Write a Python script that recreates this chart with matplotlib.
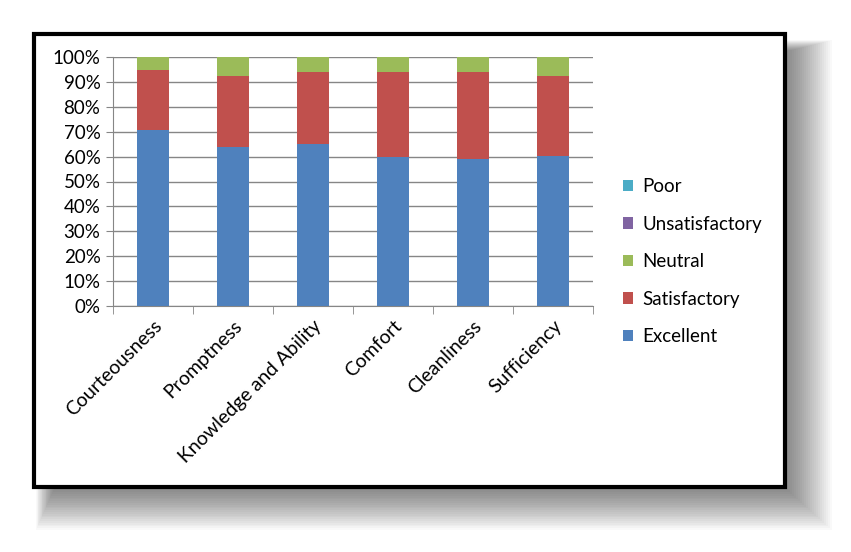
import matplotlib.pyplot as plt
from matplotlib.patches import Rectangle, Patch
import numpy as np

categories = ["Courteousness", "Promptness", "Knowledge and Ability",
              "Comfort", "Cleanliness", "Sufficiency"]
excellent = [70.7, 63.8, 65.1, 60.0, 58.9, 60.3]
satisfactory = [24.2, 28.7, 29.0, 34.1, 35.2, 32.2]
neutral = [5.1, 7.5, 5.9, 5.9, 5.9, 7.5]
unsatisfactory = [0, 0, 0, 0, 0, 0]
poor = [0, 0, 0, 0, 0, 0]

series = [("Excellent", excellent, "#4F81BD"),
          ("Satisfactory", satisfactory, "#C0504D"),
          ("Neutral", neutral, "#9BBB59"),
          ("Unsatisfactory", unsatisfactory, "#8064A2"),
          ("Poor", poor, "#4BACC6")]

plt.rcParams['font.family'] = ['Lato', 'DejaVu Sans']

W, H = 851, 552
fig = plt.figure(figsize=(W / 100, H / 100), dpi=100)
fig.patch.set_facecolor("white")

def px(x0, y0, x1, y1):
    # pixel box -> figure fraction rectangle args
    return (x0 / W, 1 - y1 / H), (x1 - x0) / W, (y1 - y0) / H

# soft shadow behind the frame
n = 24
for i in range(n):
    xy, w, h = px(36 + i * 0.8, 40 + i * 0.5, 832 - i * 2.0, 530 - i * 1.8)
    fig.patches.append(Rectangle(xy, w, h, transform=fig.transFigure,
                                 facecolor="black", alpha=0.025,
                                 edgecolor="none", zorder=0))
# frame
xy, w, h = px(34, 34, 785, 487)
fig.patches.append(Rectangle(xy, w, h, transform=fig.transFigure,
                             facecolor="white", edgecolor="black",
                             linewidth=3, zorder=1))

ax = fig.add_axes([113 / W, 1 - 306 / H, 480 / W, 249 / H])
ax.set_zorder(2)
ax.patch.set_alpha(0)

x = np.arange(len(categories))
bottom = np.zeros(len(categories))
handles = {}
for name, vals, col in series:
    v = np.array(vals, dtype=float)
    ax.bar(x, v, 0.4, bottom=bottom, color=col, zorder=3)
    bottom += v
    handles[name] = Patch(facecolor=col)

ax.set_xlim(-0.5, len(categories) - 0.5)
ax.set_ylim(0, 100)
ax.set_yticks(np.arange(0, 101, 10))
ax.set_yticklabels([f"{t}%" for t in range(0, 101, 10)], fontsize=13.5)
ax.yaxis.grid(True, color="#868686", linewidth=1, zorder=0)
ax.set_axisbelow(True)

ax.set_xticks(x)
ax.set_xticklabels(categories, rotation=45, ha="right",
                   rotation_mode="anchor", fontsize=14)
ax.tick_params(axis="x", which="major", length=0, pad=8)
ax.set_xticks(np.arange(-0.5, len(categories), 1), minor=True)
ax.tick_params(axis="x", which="minor", length=6, color="#868686", direction="out")
ax.tick_params(axis="y", length=5, color="#868686", pad=4)

for s in ["top", "right"]:
    ax.spines[s].set_visible(False)
for s in ["left", "bottom"]:
    ax.spines[s].set_color("#868686")

order = ["Poor", "Unsatisfactory", "Neutral", "Satisfactory", "Excellent"]
fig.legend([handles[n] for n in order], order, loc="upper left",
           bbox_to_anchor=(606 / W, 1 - 161 / H), frameon=False,
           fontsize=13.5, handlelength=0.55, handleheight=0.55,
           handletextpad=0.5, labelspacing=1.1)

fig.savefig("out.png", dpi=100, facecolor="white")
